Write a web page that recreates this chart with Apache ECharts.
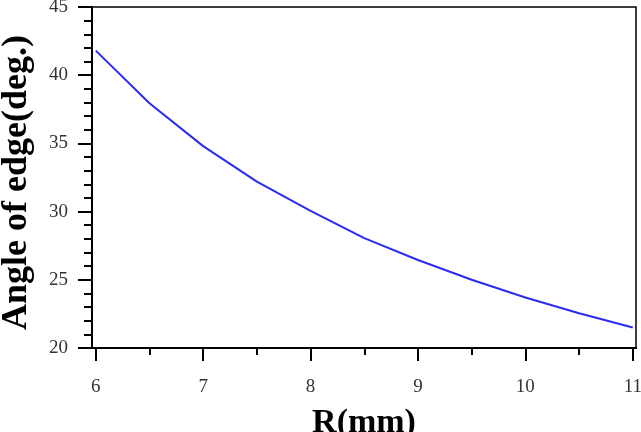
<!DOCTYPE html>
<html lang="en">
<head>
<meta charset="UTF-8">
<title>Angle of edge vs R</title>
<script src="https://cdn.jsdelivr.net/npm/echarts@6/dist/echarts.min.js"></script>
<style>
html, body { margin: 0; padding: 0; background: #fff; }
#chart { width: 641px; height: 432px; }
</style>
</head>
<body>
<div id="chart"></div>
<script>
// values
const rValues = [6, 6.5, 7, 7.5, 8, 8.5, 9, 9.5, 10, 10.5, 11];
const angleValues = [41.8, 37.95, 34.8, 32.2, 30.05, 28.05, 26.45, 25.0, 23.7, 22.55, 21.5];
const xMajorTicks = [6, 7, 8, 9, 10, 11];
const xMinorTicks = [6.5, 7.5, 8.5, 9.5, 10.5];

const serif = 'Liberation Serif';
const chart = echarts.init(document.getElementById('chart'));

chart.setOption({
  animation: false,
  grid: {
    left: 92, top: 7, right: 5, bottom: 84,
    containLabel: false, outerBoundsMode: 'none',
    show: true, borderColor: '#000', borderWidth: 1.5, backgroundColor: '#fff'
  },
  xAxis: [{
    type: 'value',
    min: 5.965, max: 11.03,
    name: 'R(mm)', nameLocation: 'middle', nameGap: 58,
    nameTextStyle: { fontFamily: serif, fontWeight: 'bold', fontSize: 34, color: '#000' },
    axisLine: { lineStyle: { color: '#000', width: 2 } },
    axisTick: { customValues: xMajorTicks, length: 13, lineStyle: { color: '#000', width: 2 } },
    axisLabel: { customValues: xMajorTicks, margin: 30, fontFamily: serif, fontSize: 19, color: '#333' },
    splitLine: { show: false }
  }, {
    type: 'value',
    position: 'bottom',
    min: 5.965, max: 11.03,
    axisLine: { show: false },
    axisTick: { customValues: xMinorTicks, length: 7, lineStyle: { color: '#000', width: 2 } },
    axisLabel: { show: false },
    splitLine: { show: false }
  }],
  yAxis: {
    type: 'value',
    min: 20, max: 45, interval: 5,
    name: 'Angle of edge(deg.)', nameLocation: 'middle', nameGap: 57,
    nameTextStyle: { fontFamily: serif, fontWeight: 'bold', fontSize: 36, color: '#000', padding: [0, 10, 0, 0] },
    axisLine: { show: true, lineStyle: { color: '#000', width: 2 } },
    axisTick: { show: true, length: 14, lineStyle: { color: '#000', width: 2 } },
    minorTick: { show: true, splitNumber: 5, length: 8, lineStyle: { color: '#000', width: 2 } },
    axisLabel: { margin: 24, fontFamily: serif, fontSize: 19, color: '#333' },
    splitLine: { show: false }
  },
  series: [{
    type: 'line',
    data: rValues.map((r, i) => [r, angleValues[i]]),
    showSymbol: false,
    lineStyle: { color: '#2b2bf0', width: 2 }
  }]
});
</script>
</body>
</html>
